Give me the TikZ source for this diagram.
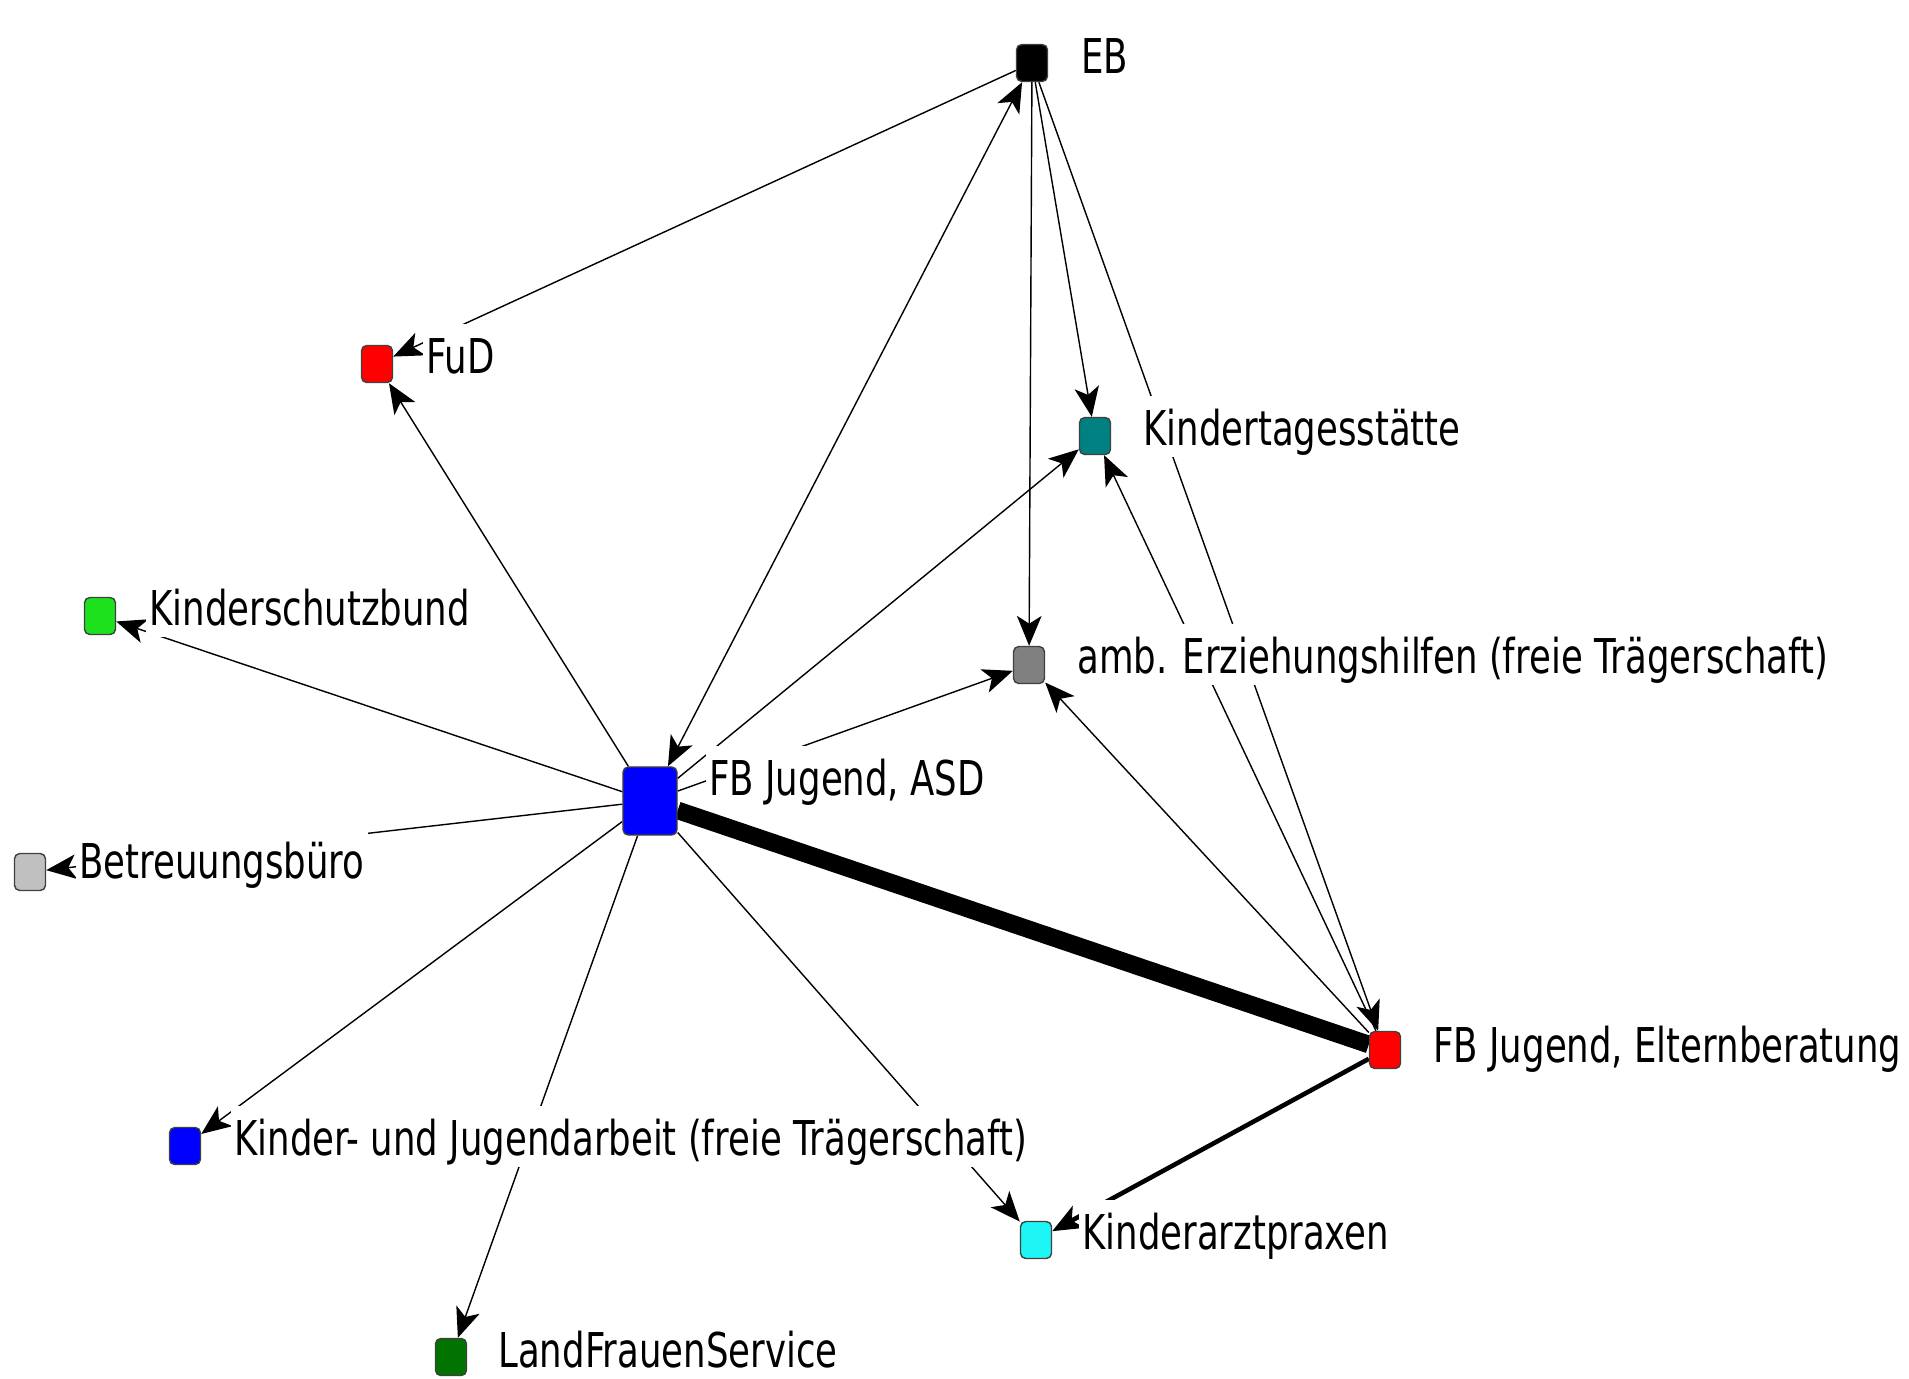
\documentclass[tikz,border=0pt]{standalone}
\usepackage{fontspec}
\setmainfont{DejaVu Sans}
\usepackage{graphicx}
\usetikzlibrary{arrows.meta}
\usetikzlibrary{backgrounds}
\usepackage{xcolor}
\definecolor{kitacol}{RGB}{0,128,128}
\definecolor{ksbcol}{RGB}{30,225,30}
\definecolor{lfscol}{RGB}{0,115,0}
\definecolor{bbcol}{RGB}{192,192,192}
\definecolor{ambcol}{RGB}{128,128,128}
\definecolor{kapcol}{RGB}{30,245,245}
\newcommand{\tall}[1]{\scalebox{1}[1.35]{#1}}

\begin{document}
\begin{tikzpicture}[x=0.01cm, y=-0.01cm, line width=0.5pt,
  >={Stealth[length=8.5pt,width=7pt,inset=2.2pt]},
  actor/.style={draw=black!75, rounded corners=1.5pt, inner sep=0pt, minimum width=0.31cm, minimum height=0.37cm, line width=0.4pt},
  lab/.style={anchor=base west, fill=white, inner xsep=1pt, inner ysep=0pt, text height=14pt, text depth=3.5pt, font=\fontsize{10.1pt}{12pt}\selectfont}]
\useasboundingbox (0,0) rectangle (1909,1378);

\node[actor, fill=black] (eb) at (1032,63) {};
\node[actor, fill=red] (fud) at (377,364) {};
\node[actor, fill=kitacol] (kita) at (1095,436) {};
\node[actor, fill=ksbcol] (ksb) at (100,616) {};
\node[actor, fill=ambcol] (amb) at (1029,665) {};
\node[actor, fill=blue, minimum width=0.54cm, minimum height=0.68cm] (asd) at (650,801) {};
\node[actor, fill=bbcol] (bb) at (30,872) {};
\node[actor, fill=red] (eltern) at (1385,1050) {};
\node[actor, fill=blue] (kja) at (185,1146) {};
\node[actor, fill=kapcol] (kap) at (1036,1240) {};
\node[actor, fill=lfscol] (lfs) at (451,1357) {};

\node[lab] (ebT) at (1077,73) {\tall{EB}};
\node[lab] (fudT) at (422,373) {\tall{FuD}};
\node[lab] (kitaT) at (1139,445) {\tall{Kindertagesstätte}};
\node[lab] (ksbT) at (145,625) {\tall{Kinderschutzbund}};
\node[lab] (ambT) at (1073,673) {\tall{amb. Erziehungshilfen (freie Trägerschaft)}};
\node[lab] (asdT) at (705,795) {\tall{FB Jugend, ASD}};
\node[lab] (bbT) at (75,878) {\tall{Betreuungsbüro}};
\node[lab] (elternT) at (1429,1062) {\tall{FB Jugend, Elternberatung}};
\node[lab] (kjaT) at (230,1155) {\tall{Kinder- und Jugendarbeit (freie Trägerschaft)}};
\node[lab] (kapT) at (1078,1249) {\tall{Kinderarztpraxen}};
\node[lab] (lfsT) at (494,1367) {\tall{LandFrauenService}};

\begin{scope}[on background layer]
\foreach \t in {fud,kita,amb,ksb,bb,kja,lfs,kap}
  \draw[->] (asd) -- (\t);
\draw[<->] (asd) -- (eb);
\foreach \t in {fud,kita,amb,eltern}
  \draw[->] (eb) -- (\t);
\draw[->] (eltern) -- (kita);
\draw[->] (eltern) -- (amb);
\draw[line width=5pt] (asd) -- (eltern);
\draw[->, line width=1.3pt] (eltern) -- (kap);
\end{scope}
\end{tikzpicture}
\end{document}
